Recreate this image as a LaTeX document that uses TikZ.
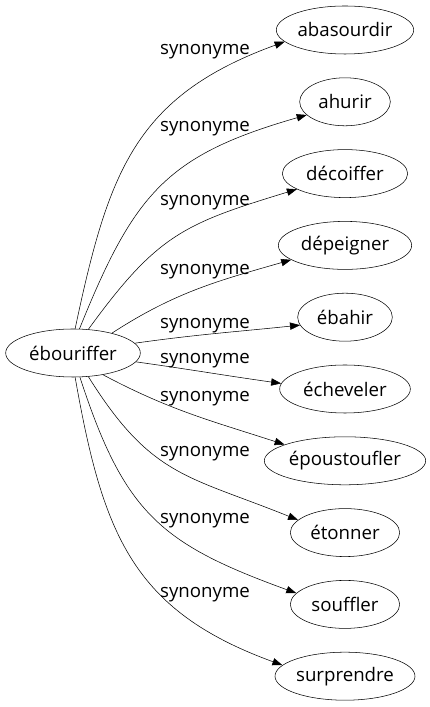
\documentclass[tikz,border=0pt]{standalone}
\usepackage{fontspec}
\setmainfont{Open Sans}
\usetikzlibrary{arrows.meta,shapes.geometric}
\begin{document}
\begin{tikzpicture}[x=0.75pt,y=0.75pt,
    word/.style={draw,ellipse,inner sep=0pt,minimum height=36pt,font=\fontsize{14}{16}\selectfont},
    lbl/.style={inner sep=0pt,font=\fontsize{14}{16}\selectfont},
    syn/.style={-{Triangle[length=7.5pt,width=5.5pt]}}]
        \useasboundingbox (0,0) rectangle (429,707);
        % headword
        \node[word,minimum width=101pt] (ebouriffer) at (73,354) {ébouriffer};
        % synonyms
        \node[word,minimum width=103pt] (abasourdir) at (345,677) {abasourdir};
        \node[word,minimum width=68pt] (ahurir) at (345,605.2) {ahurir};
        \node[word,minimum width=94pt] (decoiffer) at (345,533.4) {décoiffer};
        \node[word,minimum width=100pt] (depeigner) at (345,461.6) {dépeigner};
        \node[word,minimum width=71pt] (ebahir) at (345,389.8) {ébahir};
        \node[word,minimum width=98pt] (echeveler) at (345,318) {écheveler};
        \node[word,minimum width=121pt] (epoustoufler) at (345,246.2) {époustoufler};
        \node[word,minimum width=82pt] (etonner) at (345,174.4) {étonner};
        \node[word,minimum width=82pt] (souffler) at (345,102.6) {souffler};
        \node[word,minimum width=105pt] (surprendre) at (345,30.8) {surprendre};
        % edges
        \draw[syn] (ebouriffer.85) to[out=78,in=200,looseness=1.15] (abasourdir.191);
        \draw[syn] (ebouriffer.75) to[out=68,in=196,looseness=1.2] (ahurir.199);
        \draw[syn] (ebouriffer.57) to[out=54,in=197,looseness=1.2] (decoiffer.198);
        \draw[syn] (ebouriffer.27) to[out=33,in=196] (depeigner.195);
        \draw[syn] (ebouriffer.9) to[out=8,in=186] (ebahir.190);
        \draw[syn] (ebouriffer.-8) to[out=-8,in=172] (echeveler.175);
        \draw[syn] (ebouriffer.-36) to[out=-28,in=162] (epoustoufler.165);
        \draw[syn] (ebouriffer.-57) to[out=-58,in=158,looseness=1.2] (etonner.165);
        \draw[syn] (ebouriffer.-74) to[out=-72,in=160,looseness=1.2] (souffler.167);
        \draw[syn] (ebouriffer.-85) to[out=-80,in=160,looseness=1.15] (surprendre.170);
        % edge labels
        \node[lbl] (l1) at (205,655.7) {synonyme};
        \node[lbl] (l2) at (205,578.2) {synonyme};
        \node[lbl] (l3) at (205,504.7) {synonyme};
        \node[lbl] (l4) at (205,435.7) {synonyme};
        \node[lbl] (l5) at (205,381.7) {synonyme};
        \node[lbl] (l6) at (205,346.7) {synonyme};
        \node[lbl] (l7) at (205,308.7) {synonyme};
        \node[lbl] (l8) at (205,253.7) {synonyme};
        \node[lbl] (l9) at (205,186.7) {synonyme};
        \node[lbl] (l10) at (205,112.7) {synonyme};
      \end{tikzpicture}
\end{document}
